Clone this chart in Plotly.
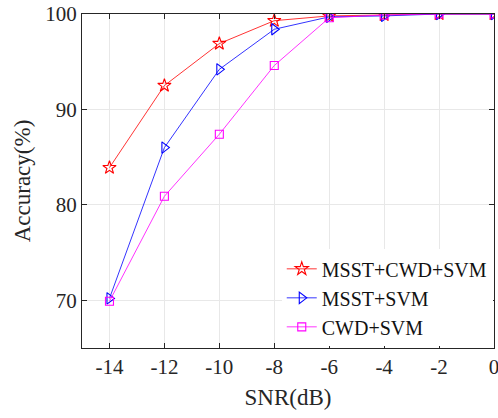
import plotly.graph_objects as go

snr = [-14, -12, -10, -8, -6, -4, -2, 0]
acc_msst_cwd_svm = [83.9, 92.5, 96.9, 99.3, 99.8, 99.9, 100.0, 100.0]
acc_msst_svm = [70.2, 86.0, 94.2, 98.4, 99.7, 99.8, 100.0, 100.0]
acc_cwd_svm = [69.9, 80.9, 87.4, 94.6, 99.6, 99.9, 100.0, 100.0]
names = ["MSST+CWD+SVM", "MSST+SVM", "CWD+SVM"]
x_ticks = [-14, -12, -10, -8, -6, -4, -2, 0]
y_ticks = [70, 80, 90, 100]

FONT = "Liberation Serif, Times New Roman, serif"

fig = go.Figure()
series = [
    (acc_msst_cwd_svm, "#ff0000", "star-open", 10),
    (acc_msst_svm, "#0000ff", "triangle-right-open", 10),
    (acc_cwd_svm, "#ff00ff", "square-open", 8),
]
for (vals, color, sym, sz), name in zip(series, names):
    fig.add_trace(go.Scatter(
        x=snr, y=vals, name=name, mode="lines+markers",
        line=dict(color=color, width=0.8),
        marker=dict(symbol=sym, size=sz, color=color, line=dict(width=1.1, color=color)),
    ))

axis_common = dict(
    showline=True, linecolor="#262626", linewidth=1.2, mirror="ticks",
    ticks="inside", ticklen=5, tickcolor="#262626",
    showgrid=True, gridcolor="#e8e8e8", gridwidth=1, zeroline=False,
    tickfont=dict(family=FONT, size=21, color="#262626"),
    ticklabeloverflow="allow", automargin=False,
)
fig.update_xaxes(range=[-15, 0], tickvals=x_ticks, ticktext=[str(v) for v in x_ticks],
                 title=dict(text="SNR(dB)", font=dict(family=FONT, size=23, color="#262626"), standoff=10),
                 **axis_common)
fig.update_yaxes(range=[65, 100], tickvals=y_ticks,
                 title=dict(text="Accuracy(%)", font=dict(family=FONT, size=23, color="#262626"), standoff=8),
                 **axis_common)

fig.update_layout(
    width=498, height=418,
    margin=dict(l=82, r=4, t=14, b=70, autoexpand=False),
    plot_bgcolor="white", paper_bgcolor="white",
    legend=dict(x=0.997, y=0.005, xanchor="right", yanchor="bottom",
                bgcolor="white", borderwidth=0,
                font=dict(family=FONT, size=20, color="#111111"),
                tracegroupgap=0, itemwidth=30),
    font=dict(family=FONT),
)

fig.write_html("out.html")
